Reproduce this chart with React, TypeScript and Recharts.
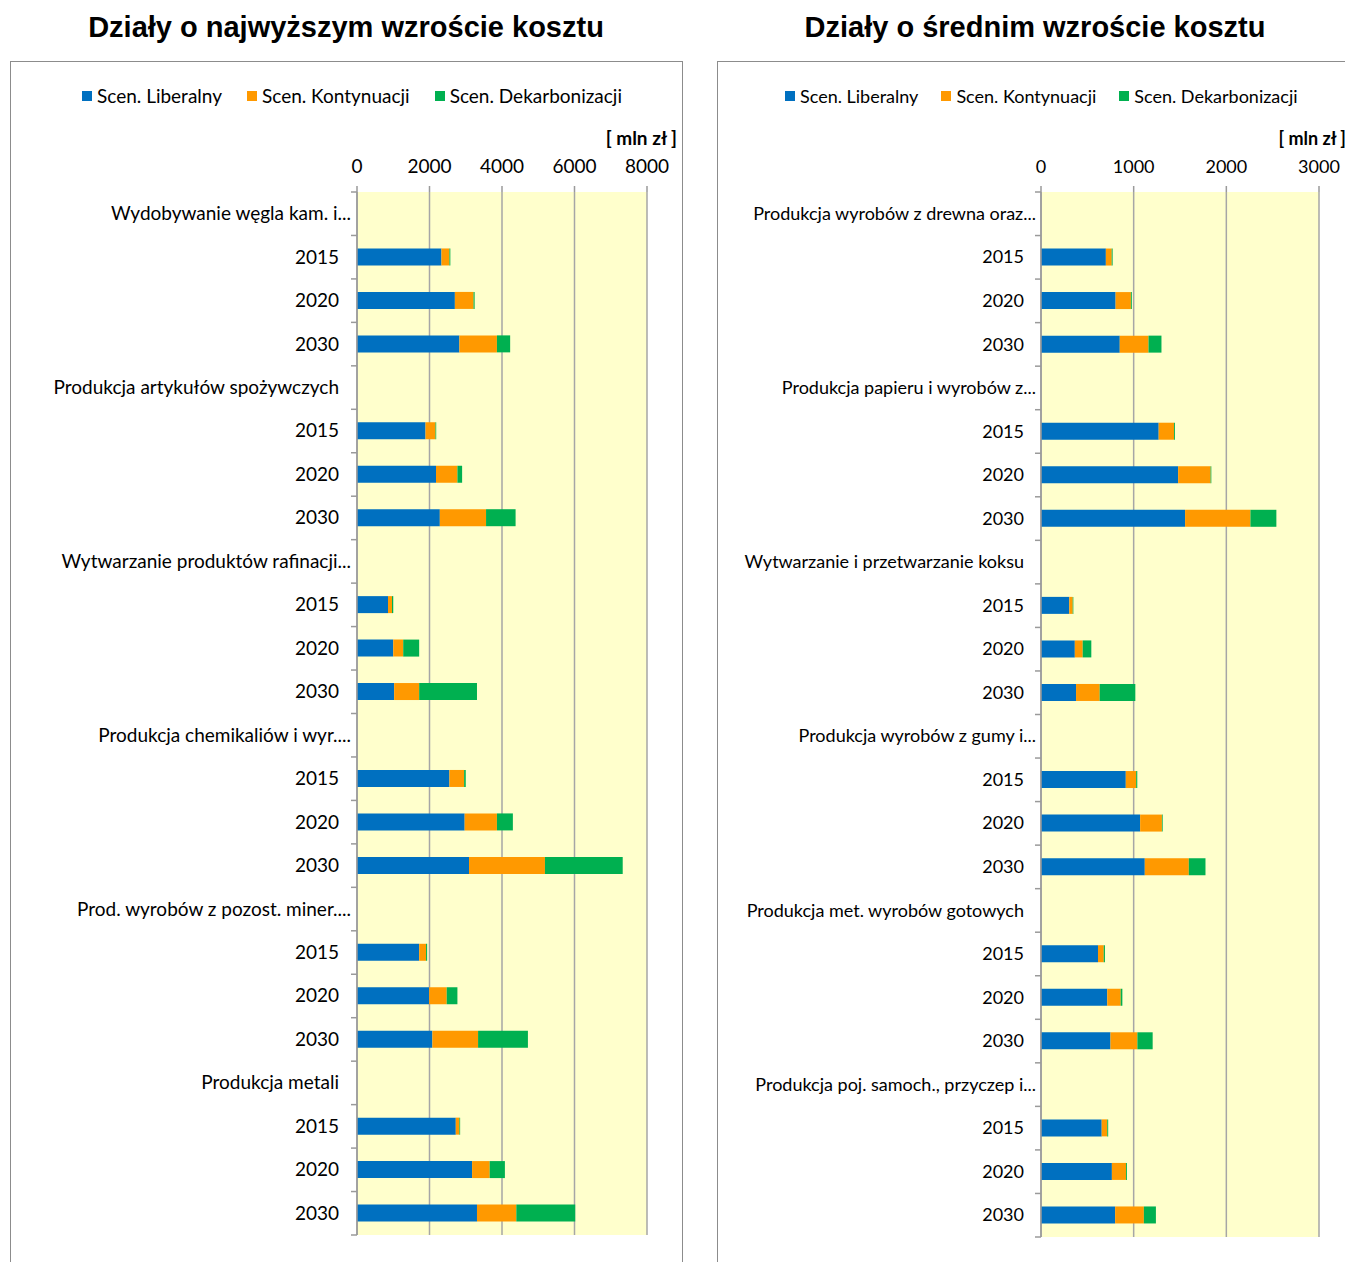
import React from 'react';
import { BarChart, Bar, XAxis, YAxis, CartesianGrid } from 'recharts';

const YEARS = ['2015', '2020', '2030'];

const LEFT_GROUPS = [
  'Wydobywanie węgla kam. i...',
  'Produkcja artykułów spożywczych',
  'Wytwarzanie produktów rafinacji...',
  'Produkcja chemikaliów i wyr....',
  'Prod. wyrobów z pozost. miner....',
  'Produkcja metali',
];
const LEFT_LIB = [2330, 2700, 2825, 1890, 2180, 2285, 855, 1000, 1025, 2550, 2970, 3090, 1715, 1990, 2080, 2725, 3175, 3310];
const LEFT_KON = [220, 515, 1035, 275, 590, 1275, 110, 275, 690, 405, 890, 2095, 190, 485, 1260, 100, 485, 1085];
const LEFT_DEK = [25, 30, 365, 20, 130, 815, 35, 440, 1595, 45, 440, 2145, 30, 295, 1375, 20, 420, 1625];
const LEFT_TICKS = [0, 2000, 4000, 6000, 8000];

const RIGHT_GROUPS = [
  'Produkcja wyrobów z drewna oraz...',
  'Produkcja papieru i wyrobów z...',
  'Wytwarzanie i przetwarzanie koksu',
  'Produkcja wyrobów z gumy i...',
  'Produkcja met. wyrobów gotowych',
  'Produkcja poj. samoch., przyczep i...',
];
const RIGHT_LIB = [700, 805, 850, 1270, 1480, 1555, 305, 365, 378, 915, 1070, 1120, 615, 715, 750, 655, 765, 800];
const RIGHT_KON = [63, 165, 310, 165, 350, 705, 37, 85, 255, 112, 235, 475, 62, 145, 290, 60, 152, 310];
const RIGHT_DEK = [10, 10, 140, 10, 8, 280, 7, 93, 385, 12, 8, 180, 13, 18, 165, 10, 10, 130];
const RIGHT_TICKS = [0, 1000, 2000, 3000];

const SERIES = [
  { key: 'lib', name: 'Scen. Liberalny', color: '#0070C0' },
  { key: 'kon', name: 'Scen. Kontynuacji', color: '#FF9900' },
  { key: 'dek', name: 'Scen. Dekarbonizacji', color: '#00B050' },
];

const FONT = 'Lato, "Open Sans", sans-serif';
const AXIS_GRAY = '#9A9A9A';

function buildRows(groups: string[], lib: number[], kon: number[], dek: number[]) {
  const rows: any[] = [];
  groups.forEach((g, gi) => {
    rows.push({ key: 'g' + gi, label: g, lib: null, kon: null, dek: null });
    YEARS.forEach((y, yi) => {
      const i = gi * 3 + yi;
      rows.push({ key: 'g' + gi + 'y' + yi, label: y, lib: lib[i], kon: kon[i], dek: dek[i] });
    });
  });
  return rows;
}

const LEFT_ROWS = buildRows(LEFT_GROUPS, LEFT_LIB, LEFT_KON, LEFT_DEK);
const RIGHT_ROWS = buildRows(RIGHT_GROUPS, RIGHT_LIB, RIGHT_KON, RIGHT_DEK);

function makeYTick(rows: any[], band: number, fs: number, labelX: number) {
  return (props: any) => {
    const { x, y, payload, index } = props;
    const axisX = x + 18;
    const row = rows.find((r) => r.key === payload.value);
    const label = row ? row.label : '';
    const dx = label.endsWith('...') ? labelX + 12 : labelX;
    return (
      <g>
        {index === 0 && (
          <line x1={axisX - 6} x2={axisX} y1={y - band / 2} y2={y - band / 2} stroke={AXIS_GRAY} strokeWidth={1.5} />
        )}
        <line x1={axisX - 6} x2={axisX} y1={y + band / 2} y2={y + band / 2} stroke={AXIS_GRAY} strokeWidth={1.5} />
        <text x={x + dx} y={y} dy={fs * 0.34} textAnchor="end" fill="#000" fontSize={fs} fontFamily={FONT}>
          {label}
        </text>
      </g>
    );
  };
}

type PanelProps = {
  rows: any[];
  ticks: number[];
  left: number;
  width: number;
  yAxisWidth: number;
  marginRight: number;
  marginBottom: number;
  plotTop: number;
  fs: number;
  labelX: number;
};

function Panel({ rows, ticks, left, width, yAxisWidth, marginRight, marginBottom, plotTop, fs, labelX }: PanelProps) {
  const height = 1262;
  const band = (height - marginBottom - plotTop) / rows.length;
  return (
    <div style={{ position: 'absolute', left, top: 0, width, height }}>
      <BarChart
        width={width}
        height={height}
        data={rows}
        layout="vertical"
        barSize={17}
        margin={{ top: plotTop - 42, right: marginRight, bottom: marginBottom, left: 0 }}
      >
        <CartesianGrid horizontal={false} vertical={true} stroke="#A6A6A6" strokeWidth={1.5} fill="#FFFFCC" fillOpacity={1} />
        <XAxis
          type="number"
          orientation="top"
          domain={[ticks[0], ticks[ticks.length - 1]]}
          ticks={ticks}
          height={42}
          axisLine={false}
          tickLine={{ stroke: AXIS_GRAY, strokeWidth: 1.5 }}
          tickSize={6}
          tickMargin={13}
          tick={{ fill: '#000', fontSize: fs, fontFamily: FONT }}
          interval={0}
        />
        <YAxis
          type="category"
          dataKey="key"
          width={yAxisWidth}
          axisLine={{ stroke: AXIS_GRAY, strokeWidth: 1.5 }}
          tickLine={false}
          tickSize={6}
          tickMargin={12}
          interval={0}
          tick={makeYTick(rows, band, fs, labelX)}
        />
        {SERIES.map((s) => (
          <Bar key={s.key} dataKey={s.key} name={s.name} stackId="a" fill={s.color} isAnimationActive={false} />
        ))}
      </BarChart>
    </div>
  );
}

function Legend({ left, top, fs, gap }: { left: number; top: number; fs: number; gap: number }) {
  return (
    <div style={{ position: 'absolute', left, top, display: 'flex', gap, fontFamily: FONT, fontSize: fs, whiteSpace: 'nowrap' }}>
      {SERIES.map((s) => (
        <div key={s.key} style={{ display: 'flex', alignItems: 'center' }}>
          <span style={{ display: 'inline-block', width: 10, height: 10, background: s.color, marginRight: 5 }} />
          <span>{s.name}</span>
        </div>
      ))}
    </div>
  );
}

const titleStyle: React.CSSProperties = {
  position: 'absolute',
  top: 11,
  textAlign: 'center',
  fontFamily: '"Liberation Sans", Arial, sans-serif',
  fontWeight: 'bold',
  fontSize: 29,
  color: '#000',
  whiteSpace: 'nowrap',
};

const unitStyle: React.CSSProperties = {
  position: 'absolute',
  top: 126,
  fontFamily: FONT,
  fontWeight: 'bold',
  color: '#000',
  whiteSpace: 'nowrap',
};

export default function App() {
  return (
    <div style={{ position: 'absolute', left: 0, top: 0, width: 1345, height: 1262, overflow: 'hidden', background: '#fff' }}>
      <div style={{ ...titleStyle, left: 0, width: 692 }}>Działy o najwyższym wzroście kosztu</div>
      <div style={{ ...titleStyle, left: 725, width: 620 }}>Działy o średnim wzroście kosztu</div>

      <div style={{ position: 'absolute', left: 10, top: 61, width: 671, height: 1260, border: '1.5px solid #8C8C8C' }} />
      <div style={{ position: 'absolute', left: 717, top: 61, width: 700, height: 1260, border: '1.5px solid #8C8C8C' }} />

      <Legend left={82} top={84} fs={19} gap={25} />
      <Legend left={785} top={85} fs={18} gap={23} />

      <div style={{ ...unitStyle, fontSize: 19, right: 1345 - 677 }}>[ mln zł ]</div>
      <div style={{ ...unitStyle, fontSize: 18, top: 127, right: -1 }}>[ mln zł ]</div>

      <Panel rows={LEFT_ROWS} ticks={LEFT_TICKS} left={0} width={690} yAxisWidth={357} marginRight={43} marginBottom={27} plotTop={192} fs={19} labelX={0} />
      <Panel rows={RIGHT_ROWS} ticks={RIGHT_TICKS} left={690} width={655} yAxisWidth={351} marginRight={26} marginBottom={25} plotTop={192} fs={18} labelX={1} />
    </div>
  );
}
